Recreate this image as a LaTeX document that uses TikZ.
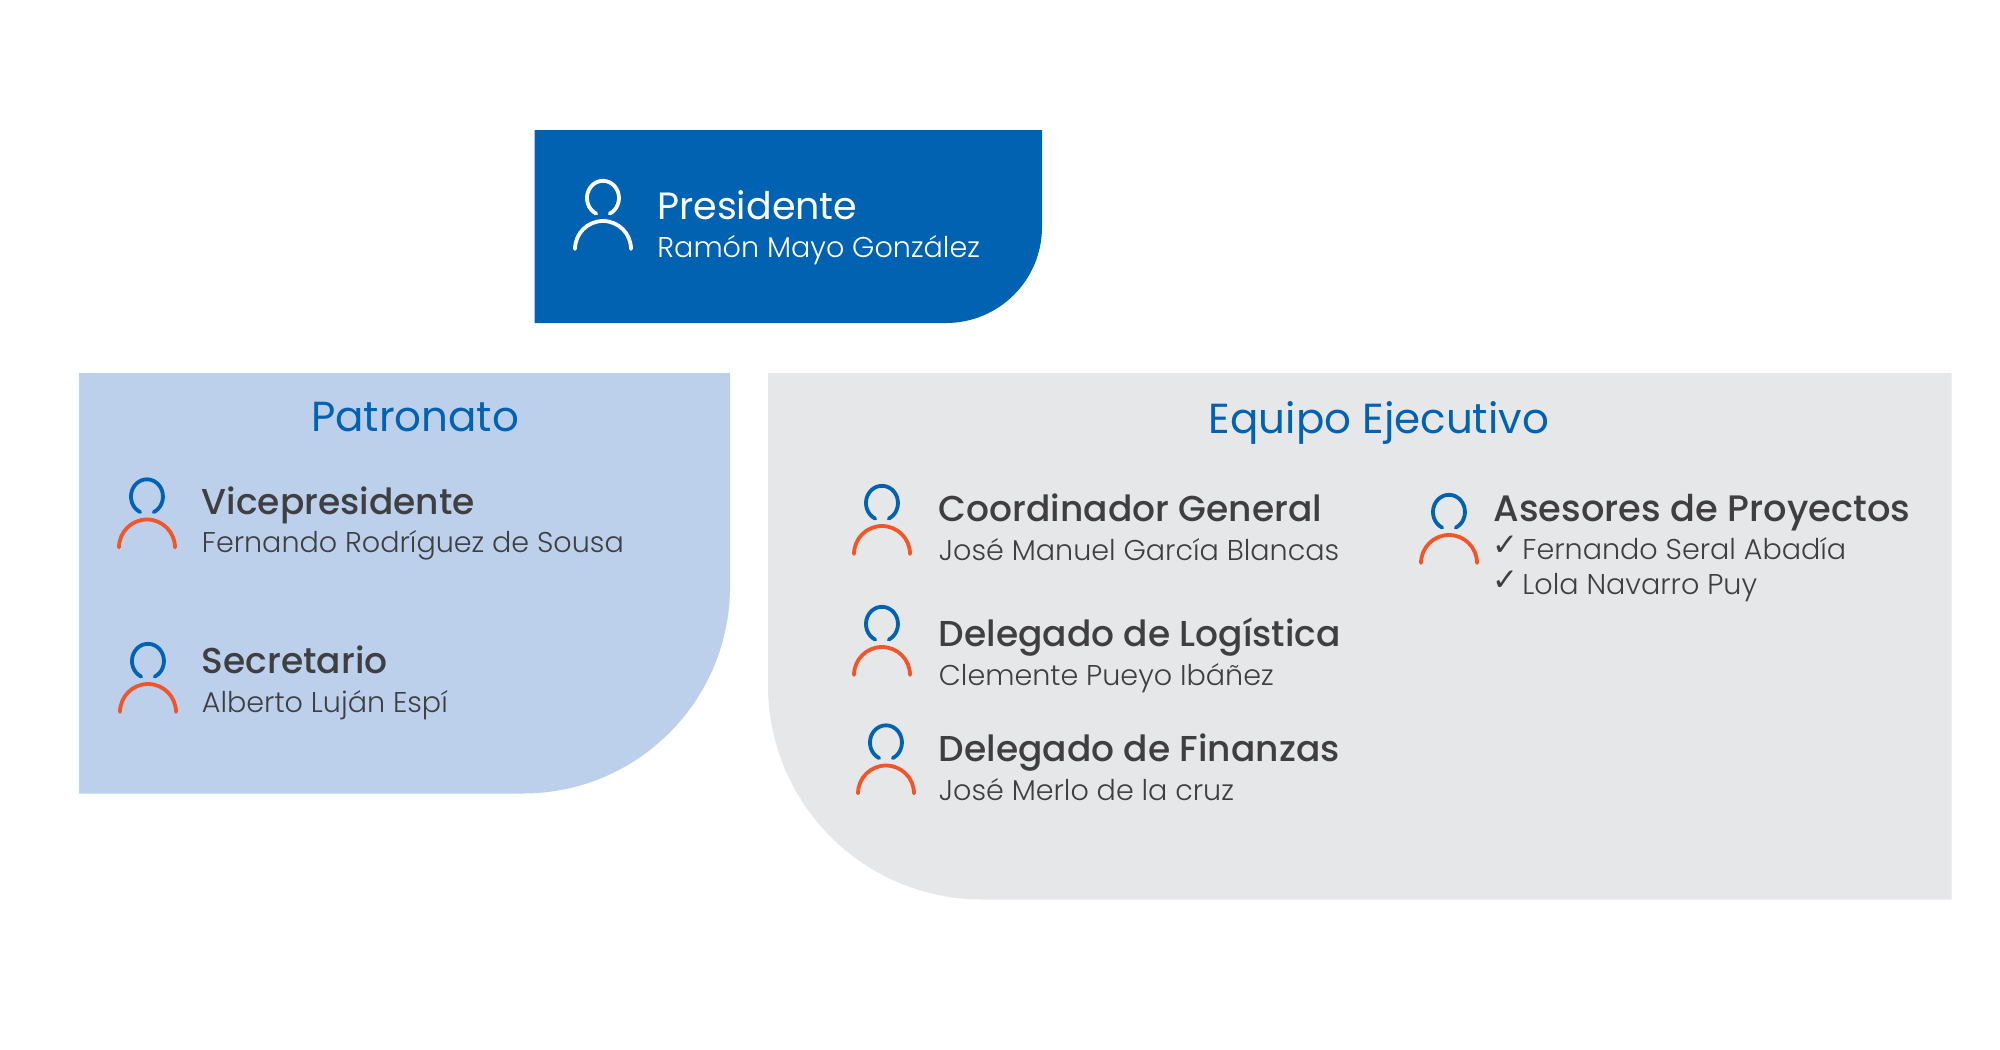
\documentclass[tikz,border=0pt]{standalone}
\usepackage{fontspec}
\setmainfont{Poppins}
\newfontfamily\thinfont{Poppins Light}
\newfontfamily\midfont{Poppins Medium}
\newfontfamily\markfont{DejaVu Sans}
\usetikzlibrary{positioning}
\definecolor{mainblue}{HTML}{0062B1}
\definecolor{paleblue}{HTML}{BCD0EC}
\definecolor{palegray}{HTML}{E6E7E9}
\definecolor{inkgray}{HTML}{3F3F41}
\definecolor{iconred}{HTML}{F0562A}
\tikzset{
    heading/.style={anchor=base,inner sep=0pt,text=mainblue,font=\fontsize{21}{21}\selectfont},
    role/.style={anchor=base west,inner sep=0pt,text=inkgray,font=\midfont\fontsize{18}{18}\selectfont},
    person/.style={anchor=base west,inner sep=0pt,text=inkgray,font=\thinfont\fontsize{14.3}{14.3}\selectfont},
    tick/.style={anchor=base west,inner sep=0pt,text=inkgray,font=\markfont\fontsize{15.5}{15.5}\selectfont},
    pics/usericon/.style n args={2}{code={
        \draw[#1,line width=1.9pt,line cap=round] (-3.4pt,-7.8pt) arc (245:-65:8pt and 8.6pt);
        \draw[#2,line width=1.9pt,line cap=round] (-14pt,-25.5pt) arc (180:0:14pt);
    }}
}
\begin{document}
\begin{tikzpicture}[x=0.5pt,y=-0.5pt]
    \useasboundingbox (0,0) rectangle (2000,1049);

    % Panels
    \fill[mainblue] (534.5,130) -- (1042,130) -- (1042,227) arc (0:-90:48pt) -- (534.5,323) -- cycle;
    \fill[paleblue] (79,373) -- (730,373) -- (730,586.5) arc (0:-90:103.5pt) -- (79,793.5) -- cycle;
    \fill[palegray] (768,373) -- (1951.5,373) -- (1951.5,899.5) -- (982,899.5) arc (-90:-180:107pt) -- cycle;

    % Headings
    \node[heading] (patronato) at (415,431) {Patronato};
    \node[heading] (equipo) at (1379,433.7) {Equipo Ejecutivo};

    % President
    \pic at (603,198) {usericon={white}{white}};
    \node[role,text=white,font=\fontsize{19}{19}\selectfont] (presidente) at (657,219) {Presidente};
    \node[person,text=white] (presidente-name) at (657,257.4) {Ramón Mayo González};

    % People
    \foreach \id/\ix/\iy/\ty/\tx/\role/\person in {
        vice/147/496.5/514/201.5/Vicepresidente/Fernando Rodríguez de Sousa,
        secretario/148/661/673.5/201.5/Secretario/Alberto Luján Espí,
        coordinador/882/503/521.7/938.5/Coordinador General/José Manuel García Blancas,
        logistica/882/624/646.5/938.5/Delegado de Logística/Clemente Pueyo Ibáñez,
        finanzas/886/742.5/761.7/938.5/Delegado de Finanzas/José Merlo de la cruz} {
        \pic at (\ix,\iy) {usericon={mainblue}{iconred}};
        \node[role] (\id) at (\tx,\ty) {\role};
        \node[person] (\id-name) at (\tx,\ty+38.5) {\person};
    }

    % Advisers
    \pic at (1449,512) {usericon={mainblue}{iconred}};
    \node[role,font=\midfont\fontsize{18.4}{18.4}\selectfont] (asesores) at (1493,521.7) {Asesores de Proyectos};
    \foreach \id/\ty/\person in {seral/559.5/Fernando Seral Abadía, navarro/594.4/Lola Navarro Puy} {
        \node[tick] (\id-tick) at (1492,\ty-4) {✓};
        \node[person] (\id) at (1522,\ty) {\person};
    }
\end{tikzpicture}
\end{document}
